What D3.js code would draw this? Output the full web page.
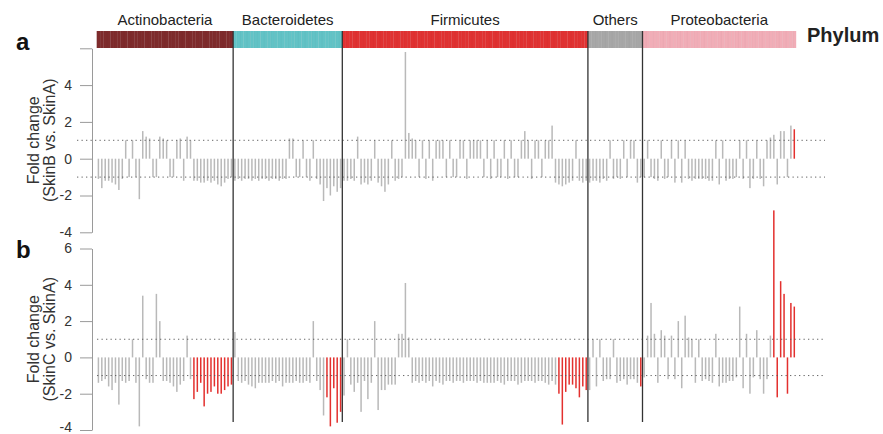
<!DOCTYPE html>
<html>
<head>
<meta charset="utf-8">
<script src="https://cdn.jsdelivr.net/npm/d3@7"></script>
<style>
body { margin: 0; background: #fff; }
text { font-family: "Liberation Sans", Arial, Helvetica, sans-serif; }
</style>
</head>
<body>
<svg id="chart" width="883" height="434"></svg>
<script>
let width = 883, height = 434;

// phylum of each block of taxa, left to right
const phyla = ["Actinobacteria", "Bacteroidetes", "Firmicutes", "Others", "Proteobacteria"];
const phylumColors = ["#7e2b2c", "#62c3c6", "#e03232", "#a7a7a7", "#f1adb7"];

// fold change SkinB vs SkinA (panel a)
const actinobacteriaB = [-1.1,-1.6,-1.2,-1.2,-1.3,-1.4,-1.7,-1.1,1.0,-1.0,1.0,-1.0,-2.2,1.5,1.2,1.1,-1.0,-1.0,1.2,1.1,
  1.0,-1.0,-1.0,1.0,1.1,-1.2,1.2,1.0,-1.2,-1.2,-1.3,-1.3,-1.2,-1.3,-1.2,-1.4,-1.5,-1.3,-1.1,-1.0];
const bacteroidetesB = [-1.2,-1.1,-1.2,-1.1,-1.1,-1.2,-1.1,-1.2,-1.1,-1.1,-1.2,-1.1,-1.1,-1.2,-1.1,-1.1,
  1.1,1.1,-1.0,-1.0,1.0,-1.0,-1.2,1.0,-1.1,-1.4,-2.3,-1.6,-2.0,-1.5,-1.8,-1.6];
const firmicutesB = [-1.2,-1.2,-1.1,-1.2,1.2,-1.4,-1.3,-1.4,-1.2,1.0,
  -1.3,-1.5,-1.8,-1.4,1.0,-1.2,-1.1,-1.0,5.8,1.4,
  1.1,1.0,-1.0,1.0,-1.1,1.0,-1.2,1.0,1.0,1.0,
  -1.0,1.0,-1.0,-1.0,1.0,1.0,-1.1,1.0,1.0,1.0,
  1.0,-1.0,1.0,-1.1,1.0,-1.0,-1.0,1.0,-1.1,1.0,
  -1.0,-1.0,1.0,1.5,1.0,-1.1,1.0,1.0,-1.0,1.0,
  1.0,1.8,-1.3,-1.4,-1.5,-1.4,-1.3,-1.2,1.0,-1.2,
  -1.3,-1.2];
const othersB = [-1.3,-1.2,-1.2,-1.3,-1.1,-1.2,1.0,-1.1,-1.0,-1.1,1.0,-1.0,1.0,1.0,-1.3,-1.0];
const proteobacteriaB = [-1.0,1.0,-1.0,-1.1,-1.2,1.0,-1.1,-1.0,1.0,-1.3,
  1.0,-1.3,1.0,-1.1,-1.2,-1.1,-1.1,-1.1,-1.1,-1.2,
  -1.2,1.0,-1.4,1.0,-1.2,-1.1,-1.1,-1.0,1.0,-1.1,
  1.0,-1.6,-1.1,1.0,-1.1,-1.5,1.0,1.15,1.3,-1.4,
  1.5,1.5,-1.0,1.8,1.6];

// fold change SkinC vs SkinA (panel b)
const actinobacteriaC = [-1.4,-1.3,-1.2,-1.6,-1.8,-1.4,-2.6,-1.3,-1.4,-1.3,
  1.0,-1.4,-3.8,3.4,-1.2,-1.4,-1.4,3.5,2.0,-1.3,
  -1.3,-1.4,-1.6,-1.9,-1.5,-1.3,1.2,-1.2,-2.3,-1.9,
  -1.4,-2.7,-2.0,-1.9,-1.6,-2.0,-2.0,-1.8,-1.6,-1.5];
const bacteroidetesC = [1.4,-1.3,-1.4,-1.3,-1.5,-1.6,-1.7,-1.4,-1.4,-1.4,
  -1.4,-1.3,-1.4,-1.3,-1.6,-1.4,-1.4,-1.4,-1.3,-1.4,
  -1.4,-1.3,-1.4,2.0,-1.3,-1.8,-3.2,-2.2,-3.8,-1.7,
  -3.6,-3.0];
const firmicutesC = [-2.1,1.0,-1.5,-1.9,-1.4,-3.0,-1.3,-2.3,-1.4,2.0,
  -2.9,-1.8,-1.8,-1.5,-1.5,-1.5,1.3,1.3,4.1,1.1,
  -1.4,-1.3,-1.4,-1.3,-1.4,-1.3,-1.6,-1.3,-1.4,-1.5,
  -1.3,-1.3,-1.4,-1.3,-1.3,-1.4,-1.3,-1.3,-1.3,-1.4,
  -1.3,-1.4,-1.4,-1.4,-1.4,-1.3,-1.4,-1.5,-1.3,-1.3,
  -1.3,-1.5,-1.4,-1.3,-1.3,-1.3,-1.4,-1.3,-1.3,-1.4,
  -1.5,-1.3,-1.5,-2.0,-3.7,-1.9,-1.5,-1.5,-1.7,-2.2,
  -1.6,-1.8];
const othersC = [-1.8,1.0,-1.6,1.0,-1.3,-1.2,-1.2,1.0,-1.4,-1.3,-1.2,-1.5,-1.2,-1.2,-1.4,-1.6];
const proteobacteriaC = [-1.1,1.2,3.0,1.3,-1.4,1.5,1.2,-1.2,1.2,-1.2,
  2.0,-1.7,2.3,1.1,1.0,-1.4,1.0,-1.3,-1.2,-1.3,
  -1.4,1.3,-1.6,-1.4,-1.4,-1.3,-1.3,-1.1,2.8,-1.7,
  1.3,-2.0,-1.1,1.5,-1.2,-2.0,-1.2,1.2,8.1,-2.2,
  4.2,3.5,-2.0,3.0,2.8];

// significant taxa (drawn red), index within each phylum
const sigB = [[], [], [], [], [44]];
const sigC = [[28,29,30,31,32,33,34,35,36,37,38,39], [27,28,29,30,31],
  [63,64,65,66,67,68,69,70,71], [15], [38,39,40,41,42,43,44]];

const yTicks = [-4, -2, 0, 2, 4, 6];

const seriesB = [actinobacteriaB, bacteroidetesB, firmicutesB, othersB, proteobacteriaB];
const seriesC = [actinobacteriaC, bacteroidetesC, firmicutesC, othersC, proteobacteriaC];

let taxa = [];
phyla.forEach(function(p, pi) {
  seriesB[pi].forEach(function(v, j) {
    taxa.push({phylum: p, pi: pi, b: v, c: seriesC[pi][j],
      sigB: sigB[pi].indexOf(j) >= 0, sigC: sigC[pi].indexOf(j) >= 0});
  });
});
taxa.forEach(function(d, i) { d.i = i; });

const svg = d3.select('#chart');

let x = d3.scaleBand()
  .domain(d3.range(taxa.length))
  .range([96.7, 796])
  .paddingInner(0.56)
  .paddingOuter(0.28);
let gap = x.step() - x.bandwidth();
let cellX = function(i) { return x(i) - gap / 2; };

let yA = d3.scaleLinear().domain([-4, 6]).range([232.3, 48.3]);
let yB = d3.scaleLinear().domain([-4, 6]).range([430, 248.5]);

// phylum colour strip
svg.append('g').selectAll('rect')
  .data(taxa)
  .enter().append('rect')
  .attr('x', d => cellX(d.i))
  .attr('y', 31)
  .attr('width', x.step() + 0.2)
  .attr('height', 17)
  .attr('fill', d => phylumColors[d.pi]);
svg.append('g').selectAll('line')
  .data(taxa)
  .enter().append('line')
  .attr('x1', d => cellX(d.i) + 0.3).attr('x2', d => cellX(d.i) + 0.3)
  .attr('y1', 31).attr('y2', 48)
  .attr('stroke', '#000').attr('stroke-opacity', 0.06).attr('stroke-width', 0.6);

// phylum titles
let groups = phyla.map(function(p, pi) {
  let members = taxa.filter(d => d.pi === pi);
  return {name: p, start: cellX(members[0].i), end: cellX(members[members.length - 1].i) + x.step()};
});
svg.append('g').selectAll('text')
  .data(groups)
  .enter().append('text')
  .attr('x', d => (d.start + d.end) / 2)
  .attr('y', 25)
  .attr('text-anchor', 'middle')
  .attr('font-size', 15)
  .attr('fill', '#222')
  .text(d => d.name);

svg.append('text')
  .attr('x', 807).attr('y', 42)
  .attr('font-size', 20).attr('font-weight', 'bold')
  .attr('fill', '#222')
  .text('Phylum');

function drawPanel(y, key, sigKey, letter, letterY, label, dotStart) {
  let g = svg.append('g');

  g.append('g').selectAll('rect')
    .data(taxa)
    .enter().append('rect')
    .attr('x', d => x(d.i))
    .attr('width', x.bandwidth())
    .attr('y', d => Math.min(y(d[key]), y(0)))
    .attr('height', d => Math.abs(y(d[key]) - y(0)))
    .attr('fill', d => d[sigKey] ? '#e3302e' : '#b9b9b9');

  // +/-1 dotted guides
  g.append('g').selectAll('line')
    .data([1, -1])
    .enter().append('line')
    .attr('x1', dotStart).attr('x2', 825)
    .attr('y1', d => y(d)).attr('y2', d => y(d))
    .attr('stroke', '#555')
    .attr('stroke-width', 0.9)
    .attr('stroke-dasharray', '1.3,3.2');

  let axis = g.append('g')
    .attr('transform', 'translate(92,0)')
    .call(d3.axisLeft(y)
      .tickValues(yTicks)
      .tickSize(12)
      .tickSizeOuter(0)
      .tickPadding(8)
      .tickFormat(d => (key === 'b' && d === 6) ? '' : String(d)));
  axis.select('.domain').attr('stroke', '#9a9a9a');
  axis.selectAll('.tick line').attr('stroke', '#9a9a9a');
  axis.selectAll('.tick text')
    .attr('fill', '#333')
    .attr('font-size', 14)
    .attr('font-family', '"Liberation Sans", Arial, sans-serif');
  if (key === 'c') {
    // keep the lowest label inside the page
    axis.selectAll('.tick text').filter(d => d === -4).attr('dy', '0.12em');
  }

  let mid = y(1);
  g.append('text')
    .attr('transform', 'translate(38.5,' + mid + ') rotate(-90)')
    .attr('text-anchor', 'middle')
    .attr('font-size', 16).attr('fill', '#333')
    .text('Fold change');
  g.append('text')
    .attr('transform', 'translate(54.5,' + mid + ') rotate(-90)')
    .attr('text-anchor', 'middle')
    .attr('font-size', 16).attr('fill', '#333')
    .text(label);

  svg.append('text')
    .attr('x', 16).attr('y', letterY)
    .attr('font-size', 24).attr('font-weight', 'bold')
    .attr('fill', '#111')
    .text(letter);
}

drawPanel(yA, 'b', 'sigB', 'a', 50, '(SkinB vs. SkinA)', 77);
drawPanel(yB, 'c', 'sigC', 'b', 258, '(SkinC vs. SkinA)', 97);

// phylum separators through both panels
svg.append('g').selectAll('line')
  .data(groups.slice(1))
  .enter().append('line')
  .attr('x1', d => d.start).attr('x2', d => d.start)
  .attr('y1', 31).attr('y2', 422)
  .attr('stroke', '#333')
  .attr('stroke-width', 1.3);
</script>
</body>
</html>
